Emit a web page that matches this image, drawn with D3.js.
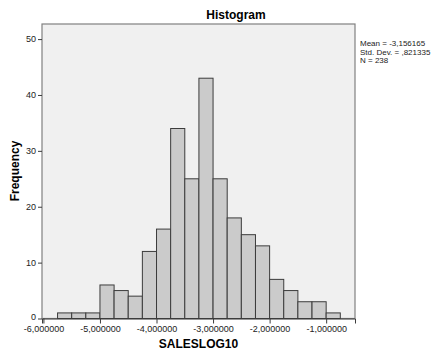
<!DOCTYPE html>
<html>
<head>
<meta charset="utf-8">
<script src="https://cdn.jsdelivr.net/npm/d3@7"></script>
<style>
  body { margin: 0; background: #fff; }
  text { font-family: Arial, "Liberation Sans", sans-serif; }
</style>
</head>
<body>
<div id="chart"></div>
<script>
// bin edges (lower bound), width 0.25
const binStarts = [-5.75, -5.5, -5.25, -5.0, -4.75, -4.5, -4.25, -4.0, -3.75, -3.5,
                   -3.25, -3.0, -2.75, -2.5, -2.25, -2.0, -1.75, -1.5, -1.25, -1.0];
const counts = [1, 1, 1, 6, 5, 4, 12, 16, 34, 25, 43, 25, 18, 15, 13, 7, 5, 3, 3, 1];
const binWidth = 0.25;
const xTicks = [-6, -5, -4, -3, -2, -1];
const yTicks = [0, 10, 20, 30, 40, 50];
const statLines = ["Mean = -3,156165", "Std. Dev. = ,821335", "N = 238"];

const W = 435, H = 351;
const plot = { left: 42, top: 24, right: 355, bottom: 318.5 };

const svg = d3.select("#chart").append("svg")
    .attr("width", W)
    .attr("height", H);

const x = d3.scaleLinear()
    .domain([-6.025, -0.49])
    .range([plot.left, plot.right]);

const y = d3.scaleLinear()
    .domain([0, 52.7])
    .range([plot.bottom, plot.top]);

// plot background
svg.append("rect")
    .attr("x", plot.left)
    .attr("y", plot.top)
    .attr("width", plot.right - plot.left)
    .attr("height", plot.bottom - plot.top)
    .attr("fill", "#f0f0f0")
    .attr("stroke", "#808080")
    .attr("stroke-width", 1.2);

// bars
svg.append("g")
    .selectAll("rect")
    .data(counts)
    .join("rect")
    .attr("x", (d, i) => x(binStarts[i]))
    .attr("y", d => y(d))
    .attr("width", (d, i) => x(binStarts[i] + binWidth) - x(binStarts[i]))
    .attr("height", d => y(0) - y(d))
    .attr("fill", "#cbcbcb")
    .attr("stroke", "#3c3c3c")
    .attr("stroke-width", 1);

// axes
const xAxis = d3.axisBottom(x)
    .tickValues(xTicks)
    .tickSize(5)
    .tickFormat(d => d3.format(".6f")(d).replace(".", ",").replace("−", "-"));
const gx = svg.append("g")
    .attr("transform", `translate(0,${plot.bottom})`)
    .call(xAxis);
gx.select(".domain").attr("stroke", "#3c3c3c");
gx.selectAll(".tick line").attr("stroke", "#3c3c3c");
gx.selectAll(".tick text")
    .attr("y", 7)
    .attr("fill", "#222")
    .style("font-size", "9px");

const yAxis = d3.axisLeft(y)
    .tickValues(yTicks)
    .tickSize(4)
    .tickPadding(2);
const gy = svg.append("g")
    .attr("transform", `translate(${plot.left},0)`)
    .call(yAxis);
gy.select(".domain").remove();
gy.selectAll(".tick line").attr("stroke", "#3c3c3c");
gy.selectAll(".tick text")
    .attr("fill", "#222")
    .style("font-size", "9px");
// lift the "0" label a touch so it clears the x tick labels
gy.selectAll(".tick text").filter(d => d === 0).attr("dy", "0.1em");

// title
svg.append("text")
    .attr("x", 236)
    .attr("y", 19)
    .attr("text-anchor", "middle")
    .style("font-size", "12px")
    .style("font-weight", "bold")
    .text("Histogram");

// axis titles
svg.append("text")
    .attr("x", (plot.left + plot.right) / 2)
    .attr("y", 348)
    .attr("text-anchor", "middle")
    .style("font-size", "12px")
    .style("font-weight", "bold")
    .text("SALESLOG10");

svg.append("text")
    .attr("transform", `translate(19,171) rotate(-90)`)
    .attr("text-anchor", "middle")
    .style("font-size", "12px")
    .style("font-weight", "bold")
    .text("Frequency");

// stats block
svg.append("g")
    .selectAll("text")
    .data(statLines)
    .join("text")
    .attr("x", 360)
    .attr("y", (d, i) => 46 + i * 8.6)
    .attr("fill", "#222")
    .style("font-size", "8px")
    .text(d => d);
</script>
</body>
</html>
